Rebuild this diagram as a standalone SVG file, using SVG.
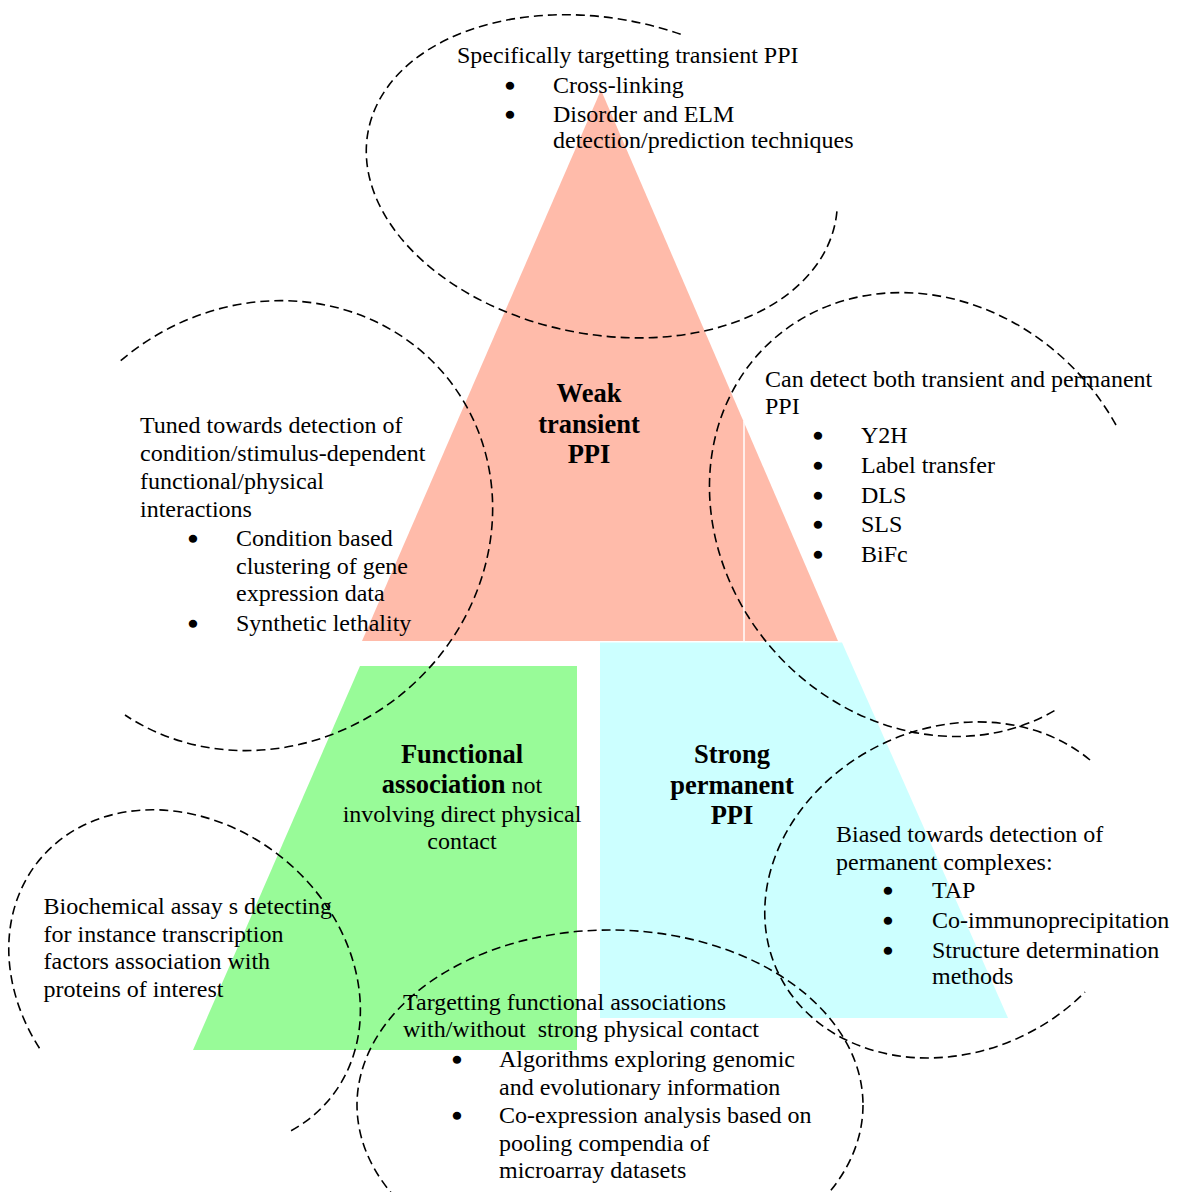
<svg xmlns="http://www.w3.org/2000/svg" width="1184" height="1192" viewBox="0 0 1184 1192">
<style>
.t{font-family:"Liberation Serif","Times New Roman",serif;font-size:24px;fill:#000}
.b{font-weight:bold;font-size:26.5px}
.m{text-anchor:middle}
.u{font-family:"Liberation Serif","Times New Roman",serif;font-size:24px;text-anchor:middle;fill:#000;stroke:#000;stroke-width:2.6;stroke-linejoin:round}
.d{fill:none;stroke:#000;stroke-width:1.6;stroke-dasharray:9 5}
</style>
<rect width="1184" height="1192" fill="#fff"/>
<g id="weak-transient-ppi">
<polygon points="601,90 838,641 362,641" fill="#FFBBAA"/>
<line x1="744" y1="421" x2="744" y2="641" stroke="#fff" stroke-width="1.5"/>
<text class="t b m" x="589" y="402">Weak</text>
<text class="t b m" x="589" y="433">transient</text>
<text class="t b m" x="589" y="463">PPI</text>
</g>
<g id="functional-association">
<polygon points="360,666 577,666 577,1050 193,1050" fill="#98FB98"/>
<text class="t b m" x="462" y="763">Functional</text>
<text class="t m" x="462" y="793"><tspan class="b">association</tspan> not</text>
<text class="t m" x="462" y="822">involving direct physical</text>
<text class="t m" x="462" y="849">contact</text>
</g>
<g id="strong-permanent-ppi">
<polygon points="600,642.5 842,642.5 1008,1018 600,1018" fill="#CCFFFF"/>
<text class="t b m" x="732" y="763">Strong</text>
<text class="t b m" x="732" y="794">permanent</text>
<text class="t b m" x="732" y="824">PPI</text>
</g>
<g id="connectors"></g>
<g id="note-transient">
<path class="d" d="M680.7,34.3 A238,158 11 1 0 837,210.7"/>
<text class="t" x="457" y="63">Specifically targetting transient PPI</text>
<text class="u" x="510" y="94">•</text>
<text class="t" x="553" y="93">Cross-linking</text>
<text class="u" x="510" y="123">•</text>
<text class="t" x="553" y="122">Disorder and ELM</text>
<text class="t" x="553" y="148">detection/prediction techniques</text>
</g>
<g id="note-condition">
<path class="d" d="M120.7,360.7 A236,218 -38 1 1 125,715"/>
<text class="t" x="140" y="433">Tuned towards detection of</text>
<text class="t" x="140" y="461">condition/stimulus-dependent</text>
<text class="t" x="140" y="489">functional/physical</text>
<text class="t" x="140" y="517">interactions</text>
<text class="u" x="193" y="547">•</text>
<text class="t" x="236" y="546">Condition based</text>
<text class="t" x="236" y="574">clustering of gene</text>
<text class="t" x="236" y="601">expression data</text>
<text class="u" x="193" y="632">•</text>
<text class="t" x="236" y="631">Synthetic lethality</text>
</g>
<g id="note-both">
<path class="d" d="M1116,425 A206,234 -41.9 1 0 1056.6,709.4"/>
<text class="t" x="765" y="387">Can detect both transient and permanent</text>
<text class="t" x="765" y="414">PPI</text>
<text class="u" x="818" y="444">•</text>
<text class="t" x="861" y="443">Y2H</text>
<text class="u" x="818" y="474">•</text>
<text class="t" x="861" y="473">Label transfer</text>
<text class="u" x="818" y="504">•</text>
<text class="t" x="861" y="503">DLS</text>
<text class="u" x="818" y="533">•</text>
<text class="t" x="861" y="532">SLS</text>
<text class="u" x="818" y="563">•</text>
<text class="t" x="861" y="562">BiFc</text>
</g>
<g id="note-permanent">
<path class="d" d="M1090,760 A193,162 -25.2 1 0 1085,992"/>
<text class="t" x="836" y="842">Biased towards detection of</text>
<text class="t" x="836" y="870">permanent complexes:</text>
<text class="u" x="888" y="899">•</text>
<text class="t" x="932" y="898">TAP</text>
<text class="u" x="888" y="929">•</text>
<text class="t" x="932" y="928">Co-immunoprecipitation</text>
<text class="u" x="888" y="959">•</text>
<text class="t" x="932" y="958">Structure determination</text>
<text class="t" x="932" y="984">methods</text>
</g>
<g id="note-biochemical">
<path class="d" d="M39.5,1048.3 A188,156 39.4 1 1 290.6,1131"/>
<text class="t" x="43.5" y="914">Biochemical assay s detecting</text>
<text class="t" x="43.5" y="942">for instance transcription</text>
<text class="t" x="43.5" y="969">factors association with</text>
<text class="t" x="43.5" y="997">proteins of interest</text>
</g>
<g id="note-targeting">
<ellipse class="d" cx="610" cy="1105" rx="253" ry="175"/>
<text class="t" x="403" y="1010">Targetting functional associations</text>
<text class="t" x="403" y="1037" style="white-space:pre">with/without  strong physical contact</text>
<text class="u" x="457" y="1068">•</text>
<text class="t" x="499" y="1067">Algorithms exploring genomic</text>
<text class="t" x="499" y="1095">and evolutionary information</text>
<text class="u" x="457" y="1124">•</text>
<text class="t" x="499" y="1123">Co-expression analysis based on</text>
<text class="t" x="499" y="1151">pooling compendia of</text>
<text class="t" x="499" y="1178">microarray datasets</text>
</g>
</svg>
